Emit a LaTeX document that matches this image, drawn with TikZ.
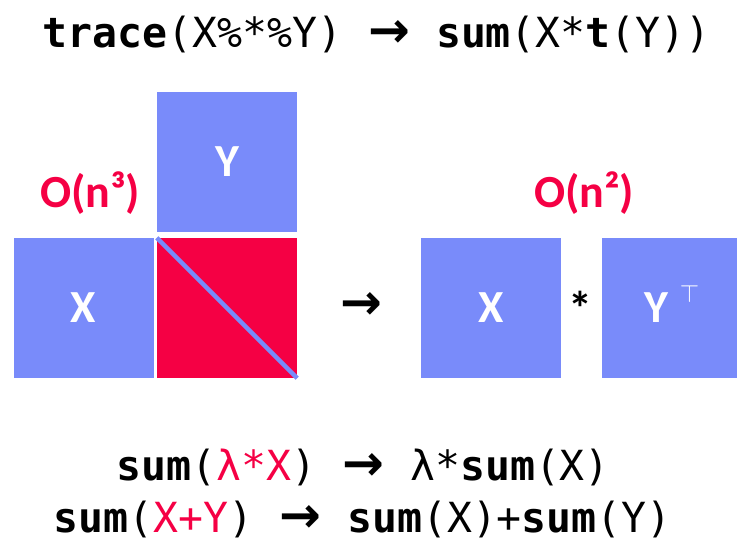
\documentclass[tikz,border=0pt]{standalone}
\usepackage{fontspec}
\setmainfont{Carlito}
\newfontfamily\codefont{DejaVu Sans Mono}
\newfontfamily\arrowfont{DejaVu Sans}

\definecolor{matblue}{RGB}{121,139,250}
\definecolor{hotred}{RGB}{245,0,68}

\newcommand{\kw}[1]{\textbf{#1}}
\newcommand{\redpart}[1]{\textcolor{hotred}{#1}}
\newcommand{\arrsym}{{\arrowfont\bfseries\fontsize{50}{50}\selectfont →}}
\newcommand{\rarr}{\makebox[94pt]{\arrsym}}

\tikzset{
  mat/.style={fill=matblue, minimum size=140pt, inner sep=0pt, text=white,
    font=\bfseries\fontsize{46}{46}\selectfont},
  code/.style={anchor=base west, inner sep=0pt,
    font=\codefont\fontsize{41.5}{48}\selectfont},
  cost/.style={anchor=base, inner sep=0pt, text=hotred,
    font=\bfseries\fontsize{46}{46}\selectfont},
}

\begin{document}
\begin{tikzpicture}[x=1pt, y=-1pt]
  \clip (0,0) rectangle (737,542);
  % rewrite rule on top
  \node[code] (rule1) at (42,47) {\kw{trace}(X\%*\%Y)\rarr\kw{sum}(X*\kw{t}(Y))};

  % naive product
  \node[mat] (ymat) at (227,162) {Y};
  \node[mat] (xmat) at (83.5,308) {X};
  \node[mat, fill=hotred] (prod) at (227,308) {};
  \draw[matblue, line width=4.5pt] (prod.north west) -- (prod.south east);
  \node[cost] (cubic) at (90,207) {O(n³)};

  \node[inner sep=0pt] (to) at (361,306) {\arrsym};

  % elementwise version
  \node[mat] (xel) at (491,308) {X};
  \node[anchor=base, inner sep=0pt, font=\bfseries\fontsize{48}{48}\selectfont] (times) at (580,325) {*};
  \node[mat] (ytr) at (672,308) {Y\hspace{11pt}\smash{\raisebox{20pt}{\fontsize{28}{28}\selectfont$\top$}}};
  \node[cost] (square) at (584,207) {O(n²)};

  % more rules
  \node[code] (rule2) at (116,480) {\kw{sum}(\redpart{λ*X})\rarr λ*\kw{sum}(X)};
  \node[code] (rule3) at (53,532) {\kw{sum}(\redpart{X+Y})\rarr\kw{sum}(X)+\kw{sum}(Y)};
\end{tikzpicture}
\end{document}
